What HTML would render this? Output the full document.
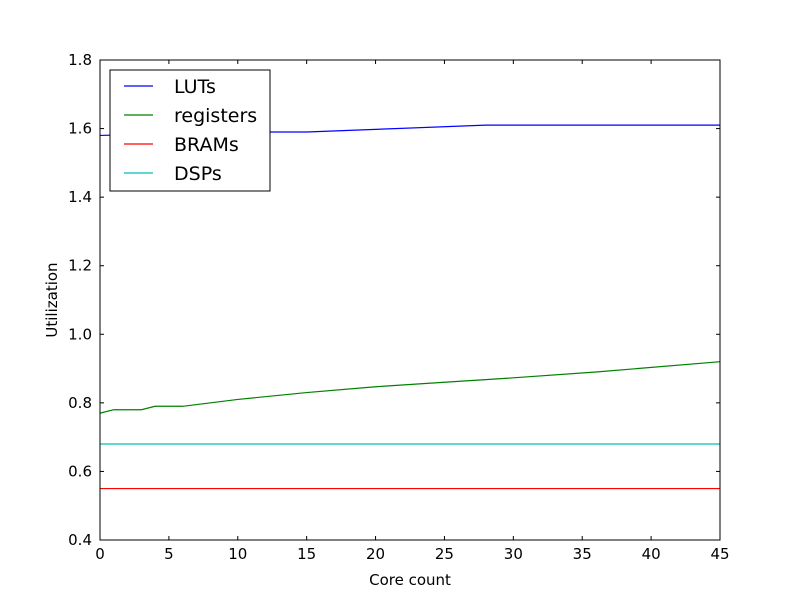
<!DOCTYPE html>
<html><head><meta charset="utf-8">
<style>
body{margin:0;background:#fff;}
svg text{font-family:"DejaVu Sans","Liberation Sans",sans-serif;}
</style></head>
<body>
<svg id="chart" width="800" height="600" xmlns="http://www.w3.org/2000/svg">
<rect x="0" y="0" width="800" height="600" fill="#fff"/>
<g id="plot"></g>
</svg>
<script>
const xTicks=[0,5,10,15,20,25,30,35,40,45];
const yTicks=[0.4,0.6,0.8,1.0,1.2,1.4,1.6,1.8];
const yTickLabels=["0.4","0.6","0.8","1.0","1.2","1.4","1.6","1.8"];
const lutX=[0,10,15,28,45];
const lutY=[1.58,1.59,1.59,1.61,1.61];
const regX=[0,1,3,4,6,10,15,20,25,30,36,45];
const regY=[0.77,0.78,0.78,0.79,0.79,0.81,0.83,0.847,0.86,0.873,0.89,0.92];
const bramX=[0,45];
const bramY=[0.55,0.55];
const dspX=[0,45];
const dspY=[0.68,0.68];
const seriesNames=["LUTs","registers","BRAMs","DSPs"];

const L=100,R=720,T=60,B=540;
const xs=v=>L+(v-0)/(45-0)*(R-L);
const ys=v=>B-(v-0.4)/(1.8-0.4)*(B-T);
const NS="http://www.w3.org/2000/svg";
const g=document.getElementById('plot');
function mk(tag,attrs){const e=document.createElementNS(NS,tag);for(const k in attrs)e.setAttribute(k,attrs[k]);g.appendChild(e);return e;}

function line(xa,ya,color,name){
  const p=mk('polyline',{points:xa.map((x,i)=>xs(x)+','+ys(ya[i])).join(' '),fill:'none',stroke:color,'stroke-width':1.2});
  
  
}
line(bramX,bramY,'#ff0000','brams-line');
line(dspX,dspY,'#00bfbf','dsps-line');
line(regX,regY,'#008000','registers-line');
line(lutX,lutY,'#0000ff','luts-line');

const frame=mk('rect',{x:L,y:T,width:R-L,height:B-T,fill:'none',stroke:'#000','stroke-width':1});



xTicks.forEach(v=>{
  const x=xs(v);
  mk('line',{x1:x,y1:B,x2:x,y2:B-4,stroke:'#000'});
  mk('line',{x1:x,y1:T,x2:x,y2:T+4,stroke:'#000'});
  const t=mk('text',{x:x,y:B+19,'text-anchor':'middle','font-size':15});
  t.textContent=v;
  
  
});
yTicks.forEach((v,i)=>{
  const y=ys(v);
  mk('line',{x1:L,y1:y,x2:L+4,y2:y,stroke:'#000'});
  mk('line',{x1:R,y1:y,x2:R-4,y2:y,stroke:'#000'});
  const t=mk('text',{x:L-8,y:y+5,'text-anchor':'end','font-size':15});
  t.textContent=yTickLabels[i];
  
  
});
const xt=mk('text',{x:(L+R)/2,y:585,'text-anchor':'middle','font-size':15});
xt.textContent='Core count';


const yt=mk('text',{x:57,y:(T+B)/2,'text-anchor':'middle','font-size':15,transform:'rotate(-90 57 '+((T+B)/2)+')'});
yt.textContent='Utilization';



const lg=mk('rect',{x:110,y:70,width:160,height:121,fill:'#fff',stroke:'#000','stroke-width':1});


const colors=['#0000ff','#008000','#ff0000','#00bfbf'];
seriesNames.forEach((n,i)=>{
  const y=86+i*29;
  const l=mk('line',{x1:124,y1:y,x2:153,y2:y,stroke:colors[i],'stroke-width':1.2});
  
  
  const t=mk('text',{x:174,y:y+7,'font-size':19});
  t.textContent=n;
  
  
});
</script>
</body></html>
